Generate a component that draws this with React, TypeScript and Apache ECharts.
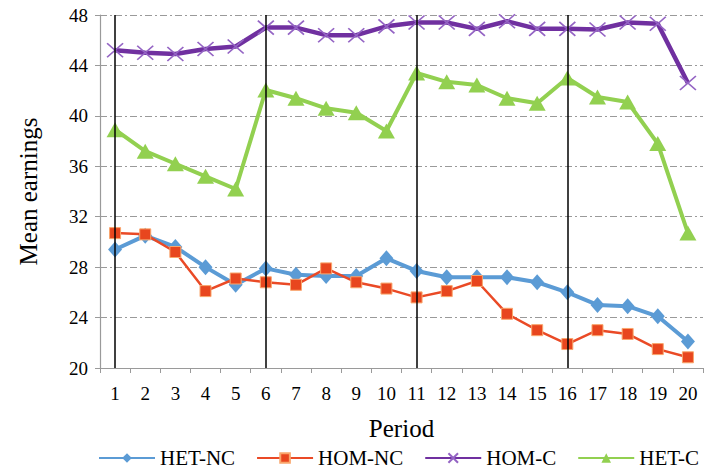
import React, { useEffect, useRef } from "react";
import * as echarts from "echarts";

const periods = ["1","2","3","4","5","6","7","8","9","10","11","12","13","14","15","16","17","18","19","20"];
const hetNC = [29.4, 30.5, 29.6, 28.0, 26.6, 27.9, 27.4, 27.3, 27.3, 28.7, 27.7, 27.2, 27.2, 27.2, 26.8, 26.0, 25.0, 24.9, 24.1, 22.1];
const homNC = [30.7, 30.6, 29.2, 26.1, 27.1, 26.8, 26.6, 27.9, 26.8, 26.3, 25.6, 26.1, 26.9, 24.3, 23.0, 21.9, 23.0, 22.7, 21.5, 20.85];
const homC = [45.2, 45.0, 44.9, 45.3, 45.5, 47.0, 47.0, 46.4, 46.4, 47.1, 47.4, 47.4, 46.9, 47.5, 46.9, 46.9, 46.85, 47.4, 47.3, 42.6];
const hetC = [38.9, 37.2, 36.2, 35.2, 34.2, 42.05, 41.4, 40.6, 40.25, 38.8, 43.4, 42.7, 42.45, 41.4, 41.0, 43.0, 41.5, 41.1, 37.8, 30.7];
const dividerPeriods = ["1", "6", "11", "16"];
const yTicks = { min: 20, max: 48, interval: 4 };

const FONT = "'Liberation Serif', 'Times New Roman', 'DejaVu Serif', serif";

export default function App() {
  const ref = useRef<HTMLDivElement>(null);
  useEffect(() => {
    if (!ref.current) return;
    const chart = echarts.init(ref.current, undefined, { renderer: "svg" });
    chart.setOption({
      animation: false,
      backgroundColor: "#ffffff",
      textStyle: { fontFamily: FONT, color: "#000" },
      grid: { left: 100, right: 6, top: 15, bottom: 100, containLabel: false },
      legend: {
        left: 93,
        top: 442,
        width: 640,
        itemWidth: 56,
        itemHeight: 12,
        itemGap: 21,
        textStyle: { fontFamily: FONT, fontSize: 21, color: "#000", lineHeight: 22 },
        data: ["HET-NC", "HOM-NC", "HOM-C", "HET-C"],
      },
      xAxis: {
        type: "category",
        data: periods,
        boundaryGap: true,
        name: "Period",
        nameLocation: "middle",
        nameGap: 48,
        nameTextStyle: { fontFamily: FONT, fontSize: 25, color: "#000" },
        axisLine: { lineStyle: { color: "#9a9a9a", width: 1.2 } },
        axisTick: { show: true, length: 5, lineStyle: { color: "#9a9a9a" } },
        axisLabel: { fontFamily: FONT, fontSize: 19, color: "#000", margin: 16, interval: 0 },
        splitLine: { show: false },
      },
      yAxis: {
        type: "value",
        min: yTicks.min,
        max: yTicks.max,
        interval: yTicks.interval,
        name: "Mean earnings",
        nameLocation: "middle",
        nameGap: 59,
        nameTextStyle: { fontFamily: FONT, fontSize: 25, color: "#000" },
        axisLine: { show: true, lineStyle: { color: "#9a9a9a", width: 1.2 } },
        axisTick: { show: true, length: 5, lineStyle: { color: "#9a9a9a" } },
        axisLabel: { fontFamily: FONT, fontSize: 19, color: "#000", margin: 12 },
        splitLine: { show: true, lineStyle: { color: "#9a9a9a", width: 1, type: [7, 3, 2, 3] } },
      },
      series: [
        {
          name: "HET-NC",
          type: "line",
          data: hetNC,
          symbol: "diamond",
          symbolSize: [14, 16],
          lineStyle: { color: "#5B9BD5", width: 4 },
          itemStyle: { color: "#5B9BD5" },
          markLine: {
            silent: true,
            symbol: "none",
            label: { show: false },
            lineStyle: { color: "#000", width: 1.5, type: "solid" },
            data: dividerPeriods.map((p) => ({ xAxis: p })),
          },
          z: 2,
        },
        {
          name: "HOM-NC",
          type: "line",
          data: homNC,
          symbol: "rect",
          symbolSize: 11,
          lineStyle: { color: "#EA4A26", width: 2.5 },
          itemStyle: { color: "#E8461E", borderColor: "#F9A66C", borderWidth: 1 },
          z: 3,
        },
        {
          name: "HOM-C",
          type: "line",
          data: homC,
          symbol: "path://M0,0 L10,10 M10,0 L0,10",
          symbolSize: [16, 14],
          lineStyle: { color: "#7030A0", width: 4.5 },
          itemStyle: { color: "#7030A0", borderColor: "#9464C4", borderWidth: 1.6 },
          z: 3,
        },
        {
          name: "HET-C",
          type: "line",
          data: hetC,
          symbol: "triangle",
          symbolSize: [17, 15],
          lineStyle: { color: "#92D050", width: 4 },
          itemStyle: { color: "#92D050" },
          z: 3,
        },
      ],
    });
    return () => chart.dispose();
  }, []);
  return (
    <div
      ref={ref}
      style={{ position: "absolute", left: 0, top: 0, width: 709, height: 468 }}
    />
  );
}
